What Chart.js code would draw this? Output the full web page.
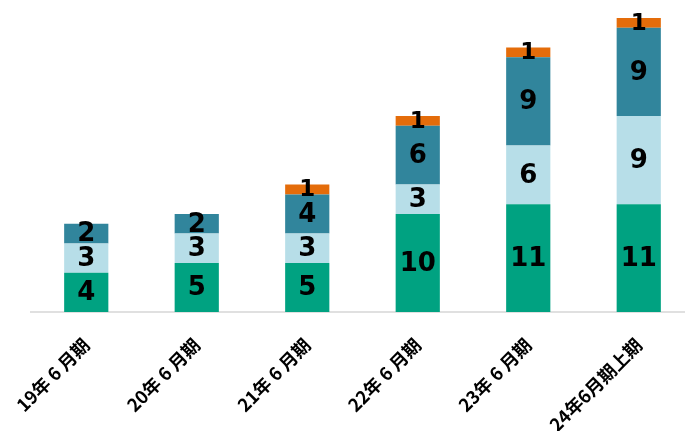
<!DOCTYPE html>
<html>
  <head>
    <meta charset="utf-8" />
    <title>Chart</title>
    <script src="https://cdn.jsdelivr.net/npm/chart.js@4.4.0/dist/chart.umd.min.js"></script>
    <style>
      html, body { margin: 0; padding: 0; background: #fff; overflow: hidden; }
      #wrap { width: 700px; height: 431px; }
    </style>
  </head>
  <body>
    <div id="wrap"><canvas id="myChart"></canvas></div>
    <script>
      const categories = ["19年 6 月期", "20年 6 月期", "21年 6 月期", "22年 6 月期", "23年 6 月期", "24年6月期上期"];
      const seriesA = [4, 5, 5, 10, 11, 11];
      const seriesB = [3, 3, 3, 3, 6, 9];
      const seriesC = [2, 2, 4, 6, 9, 9];
      const seriesD = [0, 0, 1, 1, 1, 1];

      // numbers inside each segment (top orange one a bit smaller)
      const segLabels = {
        id: "segLabels",
        afterDatasetsDraw(chart) {
          const ctx = chart.ctx;
          ctx.save();
          ctx.fillStyle = "#000";
          ctx.textAlign = "center";
          ctx.textBaseline = "middle";
          chart.data.datasets.forEach((ds, i) => {
            const meta = chart.getDatasetMeta(i);
            ctx.font = (i === 3 ? "bold 23px" : "bold 26px") + " 'DejaVu Sans', sans-serif";
            meta.data.forEach((bar, j) => {
              const v = ds.data[j];
              if (!v) return;
              const p = bar.getProps(["x", "y", "base"], true);
              ctx.fillText(String(v), p.x, (p.y + p.base) / 2 + 1);
            });
          });
          ctx.restore();
        }
      };

      new Chart(document.getElementById("myChart"), {
        type: "bar",
        data: {
          labels: categories,
          datasets: [
            { data: seriesA, backgroundColor: "#00A281" },
            { data: seriesB, backgroundColor: "#B7DEE8" },
            { data: seriesC, backgroundColor: "#31859C" },
            { data: seriesD, backgroundColor: "#E46C0A" }
          ]
        },
        options: {
          responsive: true,
          maintainAspectRatio: false,
          animation: false,
          layout: { padding: { left: 31, right: 6, top: 18, bottom: 0 } },
          datasets: { bar: { barPercentage: 0.4, categoryPercentage: 1.0 } },
          plugins: { legend: { display: false }, tooltip: { enabled: false } },
          scales: {
            x: {
              stacked: true,
              grid: { display: false },
              border: { display: true, color: "#E0E0E0", width: 2 },
              ticks: {
                color: "#000",
                minRotation: 45,
                maxRotation: 45,
                padding: 14,
                font: { family: "'Noto Sans CJK JP', sans-serif", size: 18, weight: "bold" }
              },
              afterFit(scale) { scale.height = 119; }
            },
            y: {
              stacked: true,
              display: false,
              min: 0,
              max: 30
            }
          }
        },
        plugins: [segLabels]
      });
    </script>
  </body>
</html>
